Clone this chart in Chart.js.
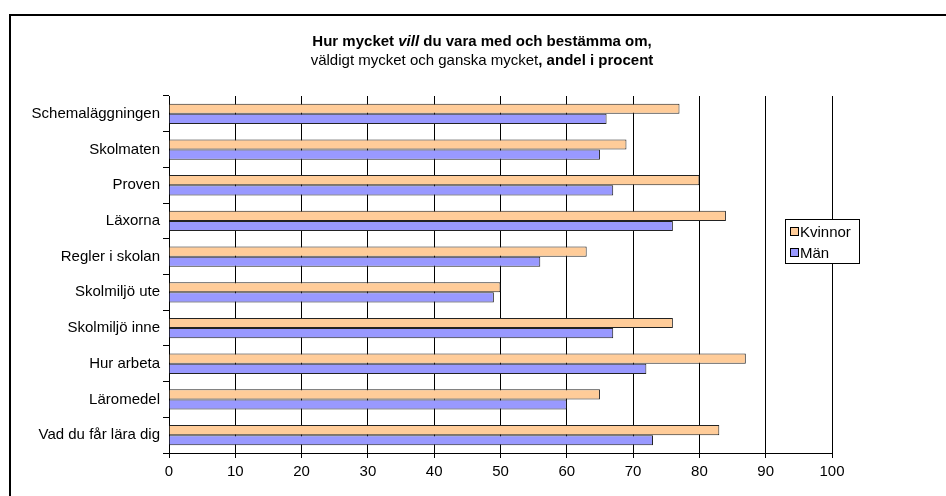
<!DOCTYPE html>
<html>
<head>
<meta charset="utf-8">
<script src="https://cdn.jsdelivr.net/npm/chart.js@4"></script>
<style>
  html, body { margin: 0; padding: 0; background: #fff; }
  #wrap { width: 946px; height: 496px; position: relative; }
</style>
</head>
<body>
<div id="wrap"><canvas id="c" width="946" height="496"></canvas></div>
<script>
const categories = [
  "Schemaläggningen",
  "Skolmaten",
  "Proven",
  "Läxorna",
  "Regler i skolan",
  "Skolmiljö ute",
  "Skolmiljö inne",
  "Hur arbeta",
  "Läromedel",
  "Vad du får lära dig"
];
const kvinnor = [77, 69, 80, 84, 63, 50, 76, 87, 65, 83];
const man = [66, 65, 67, 76, 56, 49, 67, 72, 60, 73];
const seriesNames = ["Kvinnor", "Män"];
const xTicks = [0, 10, 20, 30, 40, 50, 60, 70, 80, 90, 100];
const titleLine1 = [
  { text: "Hur mycket ", font: "bold 15px 'Liberation Sans', Arial, sans-serif" },
  { text: "vill", font: "italic bold 15px 'Liberation Sans', Arial, sans-serif" },
  { text: " du vara med och bestämma om,", font: "bold 15px 'Liberation Sans', Arial, sans-serif" }
];
const titleLine2 = [
  { text: "väldigt mycket och ganska mycket", font: "15px 'Liberation Sans', Arial, sans-serif" },
  { text: ", andel i procent", font: "bold 15px 'Liberation Sans', Arial, sans-serif" }
];

const FONT = "'Liberation Sans', Arial, sans-serif";
const colors = ["#FFCC99", "#9999FF"];

const decorPlugin = {
  id: "decor",
  afterDraw(chart) {
    const ctx = chart.ctx;
    ctx.save();
    // outer frame
    ctx.strokeStyle = "#000";
    ctx.lineWidth = 2;
    ctx.strokeRect(10, 15, 1000, 600);

    // title
    ctx.fillStyle = "#000";
    ctx.textBaseline = "middle";
    ctx.textAlign = "left";
    const drawLine = (segs, cx, cy) => {
      let total = 0;
      segs.forEach(s => { ctx.font = s.font; total += ctx.measureText(s.text).width; });
      let x = cx - total / 2;
      segs.forEach(s => { ctx.font = s.font; ctx.fillText(s.text, x, cy); x += ctx.measureText(s.text).width; });
    };
    drawLine(titleLine1, 482, 42);
    drawLine(titleLine2, 482, 61);

    // legend
    ctx.fillStyle = "#fff";
    ctx.fillRect(785, 219, 74, 44);
    ctx.strokeStyle = "#000";
    ctx.lineWidth = 1;
    ctx.strokeRect(785.5, 219.5, 74, 44);
    chart.data.datasets.forEach((ds, i) => {
      const y = 232 + i * 21;
      ctx.fillStyle = ds.backgroundColor;
      ctx.fillRect(790, y - 4, 8, 8);
      ctx.strokeStyle = "#000";
      ctx.strokeRect(790.5, y - 4.5, 8, 8);
      ctx.fillStyle = "#000";
      ctx.font = "15px " + FONT;
      ctx.textBaseline = "middle";
      ctx.fillText(ds.label, 800, y + 1);
    });
    ctx.restore();
  }
};

new Chart(document.getElementById("c"), {
  type: "bar",
  data: {
    labels: categories,
    datasets: [
      { label: seriesNames[0], data: kvinnor, backgroundColor: colors[0], borderColor: "#222", borderWidth: 1 },
      { label: seriesNames[1], data: man, backgroundColor: colors[1], borderColor: "#222", borderWidth: 1 }
    ]
  },
  options: {
    indexAxis: "y",
    responsive: false,
    animation: false,
    devicePixelRatio: 1,
    datasets: { bar: { categoryPercentage: 0.57, barPercentage: 1.0 } },
    layout: { padding: { left: 0, top: 96, right: 114, bottom: 0 } },
    plugins: {
      legend: { display: false },
      title: { display: false },
      tooltip: { enabled: false }
    },
    scales: {
      x: {
        type: "linear",
        min: 0,
        max: 100,
        afterBuildTicks: (s) => { s.ticks = xTicks.map(v => ({ value: v })); },
        afterFit: (s) => { s.height = 43; },
        ticks: { color: "#000", font: { family: FONT, size: 15 }, padding: 5, maxRotation: 0 },
        grid: { color: "#000", lineWidth: 1, tickLength: 5, drawTicks: true },
        border: { display: true, color: "#000", width: 1 }
      },
      y: {
        afterFit: (s) => { s.width = 169; },
        ticks: { color: "#000", font: { family: FONT, size: 15 }, padding: 3 },
        grid: { drawOnChartArea: false, drawTicks: true, tickLength: 6, offset: true, color: "#000" },
        border: { display: true, color: "#000", width: 1 }
      }
    }
  },
  plugins: [decorPlugin]
});
</script>
</body>
</html>
